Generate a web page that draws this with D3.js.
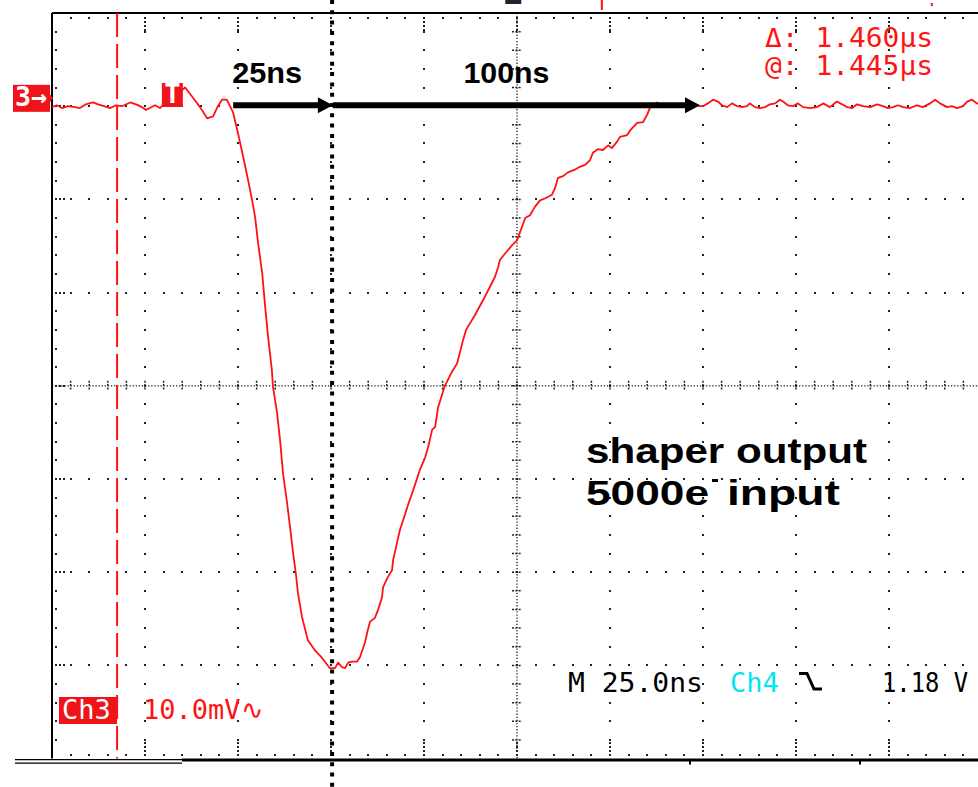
<!DOCTYPE html>
<html>
<head>
<meta charset="utf-8">
<script src="https://cdn.jsdelivr.net/npm/d3@7"></script>
<style>
  body { margin: 0; background: #fff; }
  svg { display: block; }
  .scope { font-family: "DejaVu Sans Mono", monospace; font-size: 27px; }
  .note { font-family: "Liberation Sans", Arial, sans-serif; font-weight: bold; fill: #000; }
</style>
</head>
<body>
<div id="chart"></div>
<script>
// Ch3 trace, time in ns from left edge of screen, voltage in mV (10 mV/div, 25 ns/div)
const timeNs = [0, 1.3, 2.7, 4.3, 6.2, 7.5, 9.1, 11.0, 12.4, 14.0, 15.6, 17.2, 18.8, 21.0, 22.6, 24.2, 25.3, 26.3, 27.7, 29.0,
  30.1, 35.8, 37.9, 39.8, 41.7, 43.3, 44.6, 45.7, 47.0, 48.7, 50.0, 51.6, 52.7, 53.8, 54.6, 55.4, 56.5, 57.3, 58.1, 59.1,
  59.4, 60.5, 61.3, 62.1, 63.2, 64.0, 64.8, 65.6, 66.1, 67.2, 68.8, 70.7, 72.6, 74.7, 76.1, 76.9, 78.0, 78.8, 79.6, 80.6,
  82.0, 82.8, 84.1, 84.9, 85.5, 86.8, 87.6, 88.7, 89.0, 90.3, 91.4, 91.7, 93.5, 95.7, 97.6, 98.9, 100.3, 101.1, 102.2, 103.0,
  103.8, 105.6, 107.5, 108.9, 110.5, 111.3, 113.7, 115.9, 117.7, 119.1, 119.9, 120.4, 121.8, 123.7, 125.0, 126.3, 127.2, 128.5, 129.8, 131.2,
  132.5, 134.4, 135.2, 136.0, 137.4, 138.7, 140.6, 141.9, 143.3, 144.6, 145.4, 146.8, 148.1, 149.5, 150.5, 151.9, 152.7, 154.6, 155.4, 157.3,
  158.9, 160.0, 160.8, 162.6, 164.5, 166.7, 168.8, 171.5, 174.2,
  175.0, 176.3, 177.7, 179.0, 180.1, 181.5, 182.8, 184.2, 185.5, 186.8, 187.6, 189.0, 190.3, 191.7, 193.0, 194.4, 195.7, 196.5,
  197.8, 199.2, 200.5, 201.9, 203.8, 205.6, 207.3, 209.1, 211.0, 212.4, 213.7, 215.1, 216.4, 218.0, 219.9, 221.8, 223.4, 224.7,
  226.1, 227.4, 228.8, 230.6, 232.5, 234.1, 236.0, 237.4, 238.7, 240.6, 241.9, 243.3, 244.9, 246.0, 247.3, 248.7, 250];
const ch3mV = [29.9, 30.1, 29.8, 30.0, 29.9, 29.8, 30.2, 30.4, 30.2, 30.0, 29.8, 30.1, 30.0, 30.4, 30.2, 29.9, 29.6, 29.8, 30.1, 29.8,
  30.2, 32.0, 30.9, 29.9, 28.7, 28.9, 30.0, 30.7, 30.7, 29.3, 27.1, 24.2, 22.1, 19.9, 18.1, 15.3, 12.1, 8.5, 5.2, 1.7,
  -0.1, -2.9, -5.8, -9.4, -12.6, -15.2, -17.9, -20.3, -22.2, -24.8, -27.3, -28.4, -29.2, -30.3, -30.3, -29.7, -30.2, -30.3, -29.7, -29.6,
  -29.6, -29.1, -27.6, -26.2, -25.3, -24.9, -24.1, -22.7, -21.6, -20.5, -19.8, -18.7, -15.5, -12.8, -10.6, -9.0, -7.7, -6.6, -4.7, -4.4,
  -2.3, 0.0, 1.5, 2.4, 4.9, 6.0, 7.6, 9.2, 10.6, 11.7, 12.7, 13.5, 14.2, 15.1, 15.6, 17.0, 18.0, 18.3, 19.2, 19.9,
  20.1, 20.5, 21.2, 22.3, 22.5, 22.9, 23.2, 23.5, 23.7, 24.2, 25.0, 25.4, 25.3, 25.8, 25.5, 26.2, 26.7, 26.9, 27.4, 28.2,
  28.3, 29.1, 29.9, 30.4, 30.0, 30.2, 29.9, 30.2, 30.0,
  30.0, 30.3, 30.7, 30.5, 30.1, 29.9, 30.3, 30.0, 29.9, 30.0, 30.3, 29.9, 29.8, 29.9, 30.2, 30.3, 30.7, 30.5,
  30.1, 30.0, 30.3, 29.9, 29.8, 29.9, 30.3, 29.9, 30.5, 30.2, 29.9, 29.8, 30.2, 30.0, 29.9, 30.2, 30.0, 29.8,
  29.9, 30.1, 29.9, 29.8, 30.1, 29.9, 30.3, 30.7, 30.3, 29.9, 30.0, 29.8, 30.0, 30.5, 30.7, 30.3, 30.1];

// annotations (ns / mV)
const arrowFromNs = [48.7, 75.5];
const arrowToNs = [75.5, 174.2];
const arrowLabels = ["25ns", "100ns"];
const arrowLevelMv = 30.0;
const peakMarkerNs = 75.3;
const cursorNs = 17.5;
const triggerNs = 29.8;
const groundMv = 30.2;
const readoutLines = ["\u0394: 1.460\u00b5s", "@: 1.445\u00b5s"];
const noteLines = ["shaper output", "5000e", "input"];

const W = 978, H = 787;
const red = "#ff1212", boxRed = "#ee1419", cyan = "#00e6f0", dotCol = "#222";

const x = d3.scaleLinear().domain([0, 250]).range([52, 982]);
const y = d3.scaleLinear().domain([40, -40]).range([13, 758.6]);

const xMajor = d3.range(0, 250.01, 25), xMinor = d3.range(0, 250.01, 5);
const yMajor = d3.range(-40, 40.01, 10), yMinor = d3.range(-40, 40.01, 2);

const svg = d3.select("#chart").append("svg").attr("width", W).attr("height", H);

// ---- graticule dots
const dots = [];
xMajor.filter(t => t > 0 && t < 250 && t !== 125).forEach(t =>
  yMinor.filter(v => v > -40 && v < 40).forEach(v => dots.push([x(t), y(v)])));
yMajor.filter(v => v > -40 && v < 40 && v !== 0).forEach(v =>
  xMinor.filter(t => t > 0 && t < 250).forEach(t => dots.push([x(t), y(v)])));
// border ticks
xMinor.filter(t => t > 0).forEach(t => {
  dots.push([x(t), y(40) + 5], [x(t), y(-40) - 4]);
});
xMajor.filter(t => t > 0).forEach(t => {
  [9, 13, 17].forEach(o => dots.push([x(t), y(40) + o], [x(t), y(-40) - o + 1]));
});
yMinor.filter(v => v > -40 && v < 40).forEach(v => dots.push([x(0) + 4, y(v)]));
yMajor.filter(v => v > -40 && v < 40).forEach(v => [8, 12].forEach(o => dots.push([x(0) + o, y(v)])));

svg.append("g").selectAll("rect").data(dots).join("rect")
  .attr("x", d => Math.round(d[0]) - 1).attr("y", d => Math.round(d[1]) - 1)
  .attr("width", 2).attr("height", 2).attr("fill", dotCol);

// ---- centre axes with minor ticks
const axes = svg.append("g").attr("stroke", dotCol).attr("fill", "none");
axes.append("line").attr("x1", x(0)).attr("x2", x(250)).attr("y1", y(0)).attr("y2", y(0))
  .attr("stroke-width", 1.3).attr("stroke-dasharray", "1.3,1.8");
axes.append("line").attr("x1", x(125)).attr("x2", x(125)).attr("y1", y(40)).attr("y2", y(-40))
  .attr("stroke-width", 1.3).attr("stroke-dasharray", "1.3,1.8");
axes.selectAll(".tx").data(xMinor.filter(t => t > 0 && t < 250)).join("line")
  .attr("x1", d => x(d)).attr("x2", d => x(d))
  .attr("y1", y(0) - 5).attr("y2", y(0) + 5)
  .attr("stroke-width", 1.5).attr("stroke-dasharray", "2,1.3");
axes.selectAll(".ty").data(yMinor.filter(v => v > -40 && v < 40)).join("line")
  .attr("y1", d => y(d)).attr("y2", d => y(d))
  .attr("x1", x(125) - 5).attr("x2", x(125) + 5)
  .attr("stroke-width", 1.5).attr("stroke-dasharray", "2,1.3");

// ---- frame
const frame = svg.append("g").attr("stroke", "#000");
frame.append("line").attr("x1", x(0)).attr("x2", W).attr("y1", y(40)).attr("y2", y(40)).attr("stroke-width", 2);
frame.append("line").attr("x1", x(0)).attr("x2", x(0)).attr("y1", y(40)).attr("y2", y(-40)).attr("stroke-width", 2);
frame.append("line").attr("x1", 182).attr("x2", W).attr("y1", y(-40) + 1.5).attr("y2", y(-40) + 1.5).attr("stroke-width", 3);
frame.append("line").attr("x1", 15).attr("x2", 182).attr("y1", y(-40) + 1).attr("y2", y(-40) + 1).attr("stroke-width", 1.2);
frame.append("line").attr("x1", 15).attr("x2", 182).attr("y1", y(-40) + 4.5).attr("y2", y(-40) + 4.5).attr("stroke-width", 1.2);
[690, 860].forEach(px => frame.append("line").attr("x1", px).attr("x2", px)
  .attr("y1", y(-40) + 2).attr("y2", y(-40) + 6).attr("stroke-width", 2));

// top strip marks (cut off above screen)
svg.append("rect").attr("x", x(124) - 8).attr("y", 0).attr("width", 16).attr("height", 4).attr("fill", "#223");
svg.append("rect").attr("x", x(147.8) - 1).attr("y", 0).attr("width", 2).attr("height", 10).attr("fill", red);
svg.append("rect").attr("x", x(236.5) - 1).attr("y", 3).attr("width", 2).attr("height", 3).attr("fill", red);

// ---- cursor (red dashed)
svg.append("line").attr("x1", x(cursorNs)).attr("x2", x(cursorNs))
  .attr("y1", y(40)).attr("y2", y(-40))
  .attr("stroke", red).attr("stroke-width", 2).attr("stroke-dasharray", "24,7");

// ---- trace
const line = d3.line().x(d => x(d[0])).y(d => y(d[1]));
svg.append("path").datum(d3.zip(timeNs, ch3mV))
  .attr("d", line).attr("fill", "none").attr("stroke", red).attr("stroke-width", 1.8)
  .attr("stroke-linejoin", "round");

// ---- black dotted peak marker
svg.append("line").attr("x1", x(peakMarkerNs)).attr("x2", x(peakMarkerNs))
  .attr("y1", 0).attr("y2", H)
  .attr("stroke", "#000").attr("stroke-width", 4).attr("stroke-dasharray", "4,6.3");

// ---- arrows + labels
const arrows = svg.append("g");
arrowFromNs.forEach((t0, i) => {
  const x0 = x(t0), x1 = x(arrowToNs[i]), yy = y(arrowLevelMv) - 1;
  arrows.append("line").attr("x1", x0).attr("x2", x1 - 12).attr("y1", yy).attr("y2", yy)
    .attr("stroke", "#000").attr("stroke-width", 6);
  arrows.append("path").attr("d", `M${x1},${yy}L${x1 - 15},${yy - 8}L${x1 - 15},${yy + 8}Z`).attr("fill", "#000");
});
const lblLen = [70, 86];
const lblX = [x(arrowFromNs[0]) - 1, x(110.6)];
arrowLabels.forEach((s, i) => {
  svg.append("text").attr("class", "note").attr("x", lblX[i]).attr("y", 83)
    .attr("font-size", 29).attr("textLength", lblLen[i]).attr("lengthAdjust", "spacingAndGlyphs").text(s);
});

// ---- ground marker "3→" and trigger "T"
const gy = y(groundMv) - 6;
svg.append("rect").attr("x", 13).attr("y", gy - 13.5).attr("width", 37).attr("height", 27).attr("fill", boxRed);
svg.append("path").attr("d", `M50,${gy - 4}L53,${gy}L50,${gy + 4}Z`).attr("fill", boxRed);
svg.append("text").attr("class", "scope").attr("x", 15).attr("y", gy + 8)
  .attr("font-size", 22).attr("font-weight", "bold").attr("fill", "#fff")
  .attr("textLength", 32).attr("lengthAdjust", "spacingAndGlyphs").text("3\u2192");
const tx = x(triggerNs);
svg.append("rect").attr("x", tx - 1).attr("y", 83).attr("width", 21).attr("height", 24).attr("fill", boxRed);
svg.append("text").attr("class", "scope").attr("x", tx + 9.5).attr("y", 103).attr("text-anchor", "middle")
  .attr("font-size", 22).attr("font-weight", "bold").attr("fill", "#fff").text("T");

// ---- readouts
readoutLines.forEach((s, i) => {
  svg.append("text").attr("class", "scope").attr("x", 765).attr("y", 47 + i * 28).attr("fill", red)
    .attr("font-size", 25).attr("textLength", 168).attr("lengthAdjust", "spacingAndGlyphs").text(s);
});
svg.append("rect").attr("x", 59).attr("y", 697).attr("width", 58).attr("height", 27).attr("fill", boxRed);
svg.append("text").attr("class", "scope").attr("x", 62).attr("y", 719).attr("fill", "#fff").text("Ch3");
svg.append("text").attr("class", "scope").attr("x", 143).attr("y", 719).attr("fill", red).text("10.0mV\u223f");
svg.append("text").attr("class", "scope").attr("x", 568).attr("y", 692).attr("fill", "#000")
  .attr("textLength", 135).attr("lengthAdjust", "spacingAndGlyphs").text("M 25.0ns");
svg.append("text").attr("class", "scope").attr("x", 730).attr("y", 692).attr("fill", cyan).text("Ch4");
svg.append("path").attr("d", "M799,673.5H807L814,689H822").attr("fill", "none")
  .attr("stroke", "#000").attr("stroke-width", 3);
svg.append("text").attr("class", "scope").attr("x", 882).attr("y", 692).attr("fill", "#000")
  .attr("textLength", 86).attr("lengthAdjust", "spacingAndGlyphs").text("1.18 V");

// ---- note
svg.append("text").attr("class", "note").attr("x", 586).attr("y", 463).attr("font-size", 35)
  .attr("textLength", 281).attr("lengthAdjust", "spacingAndGlyphs").text(noteLines[0]);
svg.append("text").attr("class", "note").attr("x", 586).attr("y", 505).attr("font-size", 35)
  .attr("textLength", 123).attr("lengthAdjust", "spacingAndGlyphs").text(noteLines[1]);
svg.append("rect").attr("x", 712).attr("y", 479).attr("width", 6).attr("height", 3).attr("fill", "#000");
svg.append("text").attr("class", "note").attr("x", 727).attr("y", 505).attr("font-size", 35)
  .attr("textLength", 113).attr("lengthAdjust", "spacingAndGlyphs").text(noteLines[2]);
</script>
</body>
</html>
